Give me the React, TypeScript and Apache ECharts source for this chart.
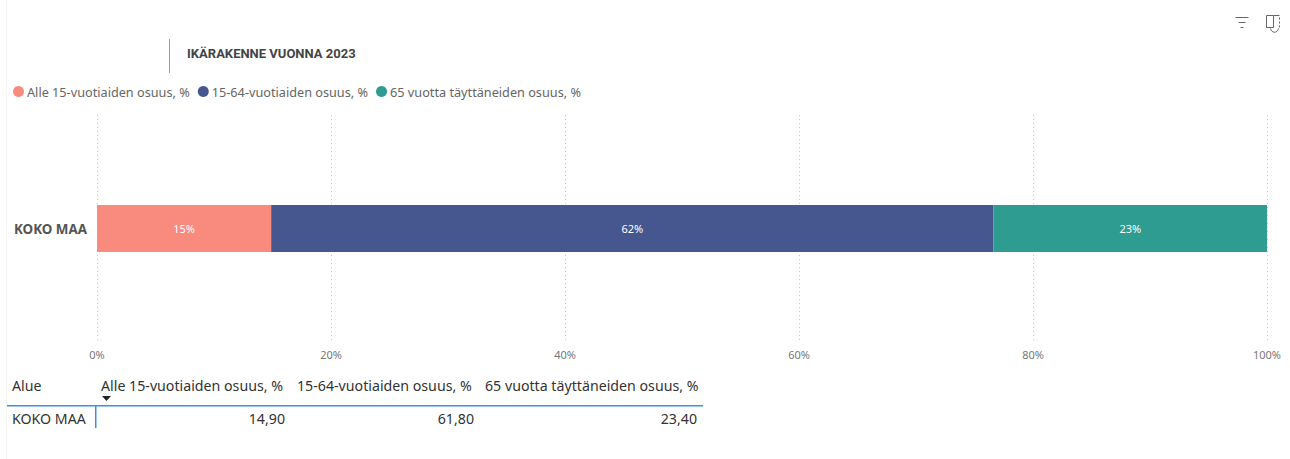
import React, { useEffect, useRef } from "react";
import * as echarts from "echarts";

const categories = ["KOKO MAA"];
const seriesNames = ["Alle 15-vuotiaiden osuus, %", "15-64-vuotiaiden osuus, %", "65 vuotta täyttäneiden osuus, %"];
const seriesValues = [14.9, 61.8, 23.4];
const seriesColors = ["#F98A7E", "#46578F", "#2E9C90"];
const tableHeaderFirst = "Alue";
const tableValues = ["14,90", "61,80", "23,40"];
const titleText = "IKÄRAKENNE VUONNA 2023";

const FONT = "'Noto Sans', sans-serif";
const total = seriesValues.reduce((a, b) => a + b, 0);

echarts.graphic.registerShape("filterIcon", echarts.graphic.extendPath("M0 0H13M3 5H10M5 10H8", {}) as any);
echarts.graphic.registerShape("focusIcon", echarts.graphic.extendPath("M0 0H7V12H0ZM7 0H13M13 2V4M13 6V8M13 10V12M4 13C5 18 11 18 12 13", {}) as any);

export default function App() {
  const ref = useRef<HTMLDivElement>(null);
  useEffect(() => {
    const chart = echarts.init(ref.current!, undefined, { renderer: "svg" });
    const headerX = [101, 297, 485];
    const valueRight = [285, 474, 697];
    chart.setOption({
      animation: false,
      backgroundColor: "#fff",
      textStyle: { fontFamily: FONT },
      legend: {
        left: 8,
        top: 85,
        padding: [0, 0, 0, 5],
        icon: "circle",
        itemWidth: 11,
        itemHeight: 11,
        itemGap: 8,
        selectedMode: false,
        data: seriesNames,
        textStyle: { color: "#666", fontSize: 12.7, fontFamily: FONT, padding: [0, 0, 0, -2] },
      },
      grid: { left: 97, right: 23, top: 115, bottom: 117 },
      xAxis: {
        type: "value",
        min: 0,
        max: 100,
        interval: 20,
        axisLine: { show: false },
        axisTick: { show: false },
        splitLine: { lineStyle: { type: [1, 3], color: "#c8c8c8", width: 1 } },
        axisLabel: { formatter: "{value}%", color: "#777", fontSize: 11, margin: 7, fontFamily: FONT },
      },
      yAxis: {
        type: "category",
        data: categories,
        axisLine: { show: false },
        axisTick: { show: false },
        axisLabel: { color: "#555", fontSize: 13.4, fontWeight: "bold", margin: 10, fontFamily: FONT, padding: [0, 0, 1, 0] },
      },
      series: seriesNames.map((name, i) => ({
        name,
        type: "bar",
        stack: "total",
        barWidth: 47,
        itemStyle: { color: seriesColors[i] },
        label: {
          show: true,
          position: "inside",
          color: "#fff",
          fontSize: 11,
          fontFamily: FONT,
          padding: [0, 0, 1, 0],
          formatter: () => `${Math.round(seriesValues[i])}%`,
        },
        data: [(seriesValues[i] / total) * 100],
      })),
      graphic: [
        { type: "rect", shape: { x: 6, y: 0, width: 1, height: 459 }, style: { fill: "#f4f4f4" } },
        { type: "rect", shape: { x: 169, y: 39, width: 1, height: 34 }, style: { fill: "#9a9a9a" } },
        { type: "text", x: 187, y: 47, style: { text: titleText, font: `bold 13px Roboto, sans-serif`, fill: "#444" } },
        { type: "filterIcon", x: 1235.5, y: 17.5, style: { stroke: "#666", fill: "none", lineWidth: 1 } },
        { type: "focusIcon", x: 1266.5, y: 15.5, style: { stroke: "#666", fill: "none", lineWidth: 1 } },
        { type: "text", x: 12, y: 378, style: { text: tableHeaderFirst, font: `14.2px ${FONT}`, fill: "#333" } },
        ...seriesNames.map((n, i) => ({ type: "text", x: headerX[i], y: 378, style: { text: n, font: `14.2px ${FONT}`, fill: "#333" } })),
        { type: "polygon", shape: { points: [[102, 396], [111, 396], [106.5, 401]] }, style: { fill: "#222" } },
        { type: "rect", shape: { x: 7, y: 405, width: 696, height: 1.5 }, style: { fill: "#3F8FE0" } },
        { type: "rect", shape: { x: 95, y: 405, width: 1.5, height: 23 }, style: { fill: "#3F8FE0" } },
        { type: "text", x: 12, y: 411, style: { text: categories[0], font: `14.2px ${FONT}`, fill: "#333" } },
        ...tableValues.map((v, i) => ({ type: "text", x: valueRight[i], y: 411, style: { text: v, font: `14.2px ${FONT}`, fill: "#333", align: "right" } })),
      ],
    });
    return () => chart.dispose();
  }, []);
  return <div ref={ref} style={{ position: "fixed", left: 0, top: 0, width: 1290, height: 459 }} />;
}
